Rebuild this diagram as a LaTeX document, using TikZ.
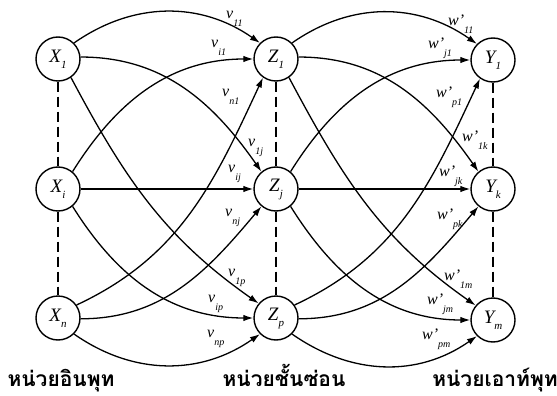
\documentclass[tikz,border=0pt]{standalone}
\usepackage{fontspec}
\setmainfont{Liberation Serif}
\newfontfamily\thaifont[Script=Thai]{Loma}
\usetikzlibrary{arrows.meta}
\newcommand\nlab[2]{#1\raisebox{-6pt}{\fontsize{11}{11}\selectfont #2}}
\newcommand\elab[2]{#1\raisebox{-8pt}{\fontsize{10}{10}\selectfont #2}}
\begin{document}
\begin{tikzpicture}[x=1pt,y=1pt,
  neuron/.style={circle,draw,line width=1.4pt,minimum size=44pt,inner sep=0pt,font=\fontsize{19}{19}\selectfont\itshape},
  conn/.style={line width=1.3pt,-{Latex[length=10pt,width=6.5pt]}},
  vert/.style={line width=1.3pt,dash pattern=on 10pt off 5pt},
  wlab/.style={font=\fontsize{16}{16}\selectfont\itshape,inner sep=0pt,anchor=base west},
  layer/.style={font=\thaifont\bfseries\fontsize{21}{21}\selectfont,inner sep=0pt,anchor=base}]
\useasboundingbox (0,0) rectangle (557,-396);
% nodes
\node[neuron] (X1) at (58,-59) {\nlab{X}{1}};
\node[neuron] (Xi) at (58,-189) {\nlab{X}{i}};
\node[neuron] (Xn) at (58,-318) {\nlab{X}{n}};
\node[neuron] (Z1) at (276,-59) {\nlab{Z}{1}};
\node[neuron] (Zj) at (276,-189) {\nlab{Z}{j}};
\node[neuron] (Zp) at (276,-318) {\nlab{Z}{p}};
\node[neuron] (Y1) at (493,-60) {\nlab{Y}{1}};
\node[neuron] (Yk) at (493,-189) {\nlab{Y}{k}};
\node[neuron] (Ym) at (493,-320) {\nlab{Y}{m}};
% dashed verticals
\foreach \a/\b in {X1/Xi,Xi/Xn,Z1/Zj,Zj/Zp,Y1/Yk,Yk/Ym}
  \draw[vert] (\a.south) -- (\b.north);
% input -> hidden
\draw[conn] (X1.45) to[out=35,in=145] (Z1.135);
\draw[conn] (X1.5) to[out=0,in=125] (Zj.130);
\draw[conn] (X1.-55) to[out=-62,in=145] (Zp.140);
\draw[conn] (Xi.50) to[out=58,in=180] (Z1.180);
\draw[conn] (Xi) -- (Zj);
\draw[conn] (Xi.-50) to[out=-58,in=180] (Zp.180);
\draw[conn] (Xn.35) to[out=25,in=-115] (Z1.-125);
\draw[conn] (Xn.-2) to[out=0,in=-130] (Zj.-130);
\draw[conn] (Xn.-45) to[out=-35,in=-145] (Zp.-135);
% hidden -> output
\draw[conn] (Z1.45) to[out=35,in=145] (Y1.135);
\draw[conn] (Z1.5) to[out=0,in=125] (Yk.130);
\draw[conn] (Z1.-55) to[out=-62,in=145] (Ym.140);
\draw[conn] (Zj.50) to[out=58,in=180] (Y1.180);
\draw[conn] (Zj) -- (Yk);
\draw[conn] (Zj.-50) to[out=-58,in=180] (Ym.180);
\draw[conn] (Zp.35) to[out=25,in=-115] (Y1.-125);
\draw[conn] (Zp.-2) to[out=0,in=-130] (Yk.-130);
\draw[conn] (Zp.-45) to[out=-35,in=-145] (Ym.-135);
% weight labels
\node[wlab] (v11) at (226,-19) {\elab{v}{11}};
\node[wlab] (vi1) at (211,-48) {\elab{v}{i1}};
\node[wlab] (vn1) at (222,-96) {\elab{v}{n1}};
\node[wlab] (v1j) at (248,-146) {\elab{v}{1j}};
\node[wlab] (vij) at (228,-172) {\elab{v}{ij}};
\node[wlab] (vnj) at (225,-216) {\elab{v}{nj}};
\node[wlab] (v1p) at (228,-276) {\elab{v}{1p}};
\node[wlab] (vip) at (208,-302) {\elab{v}{ip}};
\node[wlab] (vnp) at (207,-337) {\elab{v}{np}};
\node[wlab] (w11) at (448,-26) {\elab{w'}{11}};
\node[wlab] (wj1) at (428,-49) {\elab{w'}{j1}};
\node[wlab] (wp1) at (436,-97) {\elab{w'}{p1}};
\node[wlab] (w1k) at (462,-141) {\elab{w'}{1k}};
\node[wlab] (wjk) at (439,-176) {\elab{w'}{jk}};
\node[wlab] (wpk) at (437,-219) {\elab{w'}{pk}};
\node[wlab] (w1m) at (444,-280) {\elab{w'}{1m}};
\node[wlab] (wjm) at (427,-304) {\elab{w'}{jm}};
\node[wlab] (wpm) at (422,-339) {\elab{w'}{pm}};
% layer captions
\node[layer] (Lin) at (61,-386) {หน่วยอินพุท};
\node[layer] (Lhid) at (284,-386) {หน่วยชั้นซ่อน};
\node[layer] (Lout) at (495,-386) {หน่วยเอาท์พุท};
\end{tikzpicture}
\end{document}
